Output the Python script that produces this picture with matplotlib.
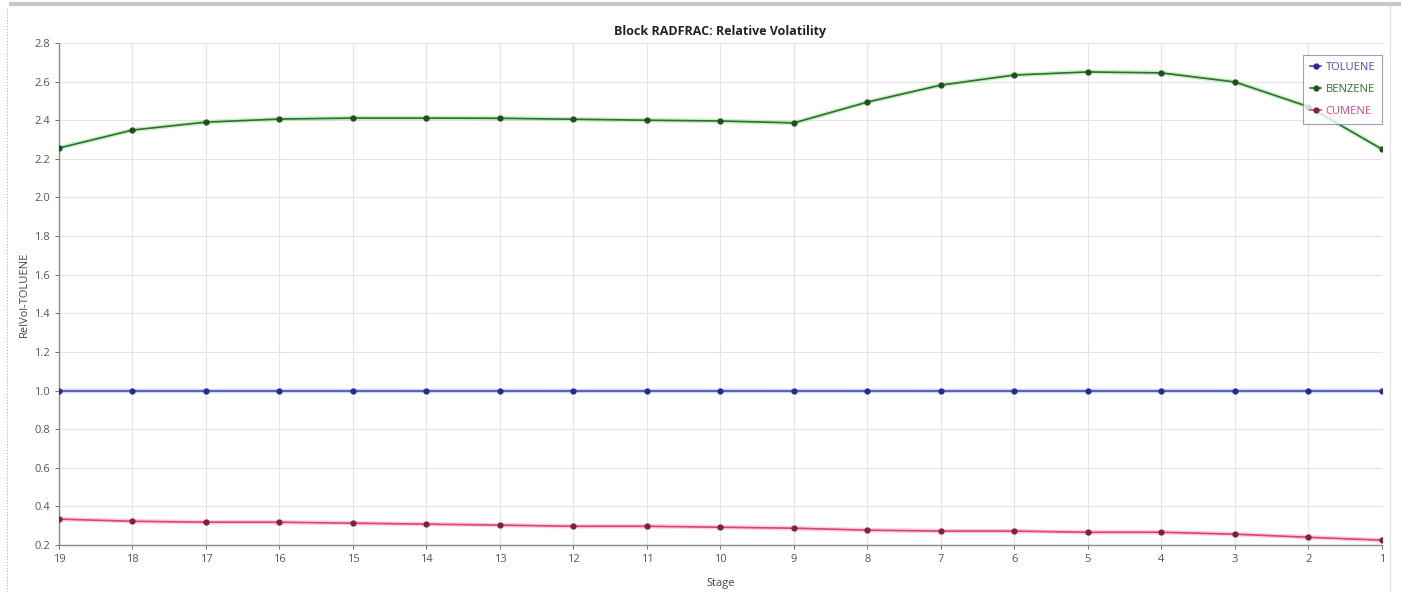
import numpy as np
import matplotlib
matplotlib.use('Agg')
import matplotlib.pyplot as plt
from matplotlib.lines import Line2D

stages = list(range(19, 0, -1))
toluene = [1.0] * 19
benzene = [2.256, 2.349, 2.390, 2.406, 2.411, 2.411, 2.410, 2.405, 2.400, 2.396,
           2.386, 2.494, 2.582, 2.634, 2.650, 2.645, 2.598, 2.470, 2.250]
cumene = [0.334, 0.323, 0.318, 0.318, 0.313, 0.308, 0.303, 0.297, 0.297, 0.292,
          0.287, 0.277, 0.272, 0.272, 0.266, 0.266, 0.256, 0.240, 0.225]

plt.rcParams['font.family'] = ['Open Sans', 'DejaVu Sans']

fig = plt.figure(figsize=(14.01, 5.92), dpi=100)
ax = fig.add_axes([0.0421, 0.0794, 0.9443, 0.848])

x = np.arange(len(stages))

# (line colour, halo colour, marker colour)
series = [
    ('TOLUENE', toluene, '#4a4ab8', '#b8b8f0', '#2a2a90'),
    ('BENZENE', benzene, '#2e6e2e', '#9be89b', '#1f4f1f'),
    ('CUMENE', cumene, '#e0407a', '#f8b0cc', '#802040'),
]
handles = []
for name, vals, c, halo, mc in series:
    ax.plot(x, vals, '-', color=halo, lw=3.2, alpha=0.6, zorder=2)
    h, = ax.plot(x, vals, '-', color=c, lw=1.2, marker='o', ms=3.5,
                 mfc=mc, mec=mc, label=name, zorder=3)
    handles.append(h)

ax.set_xlim(0, len(stages) - 1)
ax.set_ylim(0.2, 2.8)
ax.set_xticks(x)
ax.set_xticklabels([str(s) for s in stages])
ax.set_yticks(np.arange(0.2, 2.81, 0.2))
ax.set_yticklabels(['%.1f' % v for v in np.arange(0.2, 2.81, 0.2)])
ax.tick_params(axis='both', labelsize=8, colors='#555555', length=3, width=0.6)

ax.grid(True, color='#e4e4e4', lw=0.8)
ax.set_axisbelow(True)
for s in ['top', 'right']:
    ax.spines[s].set_visible(False)
for s in ['left', 'bottom']:
    ax.spines[s].set_color('#888888')
    ax.spines[s].set_linewidth(1.0)

ax.set_title('Block RADFRAC: Relative Volatility', fontsize=9, fontweight='bold',
             color='#222222', pad=6)
ax.set_xlabel('Stage', fontsize=8, color='#444444', labelpad=9)
ax.set_ylabel('RelVol-TOLUENE', fontsize=8, color='#444444', labelpad=3)

leg = ax.legend(handles=handles, loc='upper right', bbox_to_anchor=(1.0, 0.976),
                borderaxespad=0, fontsize=8, frameon=True, fancybox=False,
                handlelength=1.0, handletextpad=0.4, borderpad=0.6, labelspacing=1.0)
leg.get_frame().set_edgecolor('#8888aa')
leg.get_frame().set_linewidth(0.8)
for txt, (_, _, c, _, _) in zip(leg.get_texts(), series):
    txt.set_color(c)

# window frame artefacts
fig.add_artist(Line2D([0.008, 1.0], [0.994, 0.994], color='#c8c8c8', lw=3))
fig.add_artist(Line2D([0.005, 0.005], [0.0, 0.99], color='#9ab0e0', lw=0.8, ls=':'))
fig.add_artist(Line2D([0.992, 0.992], [0.0, 0.99], color='#e0e0e0', lw=0.8))

fig.savefig('out.png', dpi=100)
